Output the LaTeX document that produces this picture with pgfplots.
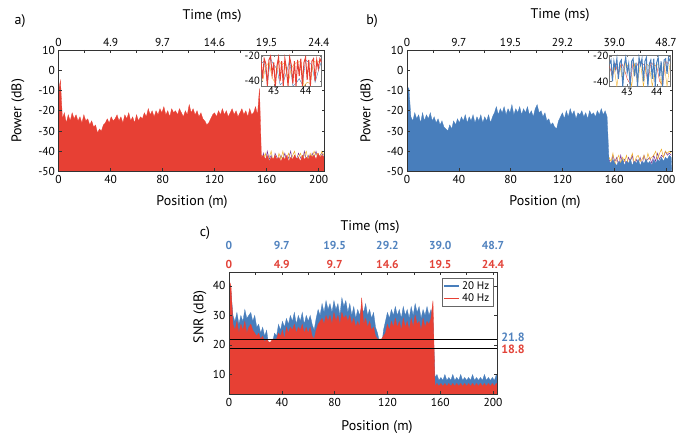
\documentclass[border=0pt]{standalone}
\usepackage{pgfplots}
\pgfplotsset{compat=1.18}
\usepackage{pgfplotstable}
\usepackage{fontspec}
\setmainfont{PT Sans}

\definecolor{myred}{RGB}{231,64,52}
\definecolor{myblue}{RGB}{72,126,188}
\definecolor{mypurple}{RGB}{120,50,150}
\definecolor{myorange}{RGB}{240,175,40}
\definecolor{lblblue}{RGB}{80,130,190}
\definecolor{lblred}{RGB}{226,66,56}

% position (m), power a (dB), power b (dB), SNR 20 Hz, SNR 40 Hz
\pgfplotstableread{
x pa pb sb sr
0 -60 -60 0 0
0 -10 -8 40 42
1.5 -5 -9 38 40
3 -24 -23 30 27
4.5 -21 -25 28 25
6 -26 -21 31 28
7.5 -22 -24 27 24
9 -25 -22 30 27
10.5 -21 -26 28 25
12 -24 -21 32 28
13.5 -22 -25 29 24
15 -25 -22 30 26
16.5 -23 -24 31 27
18 -26 -21 28 25
19.5 -22 -25 30 24
21 -25 -23 26 23
22.5 -24 -26 27 24
24 -27 -24 24 22
25.5 -25 -27 26 23
27 -28 -25 23 21
28.5 -27 -28 25 22
30 -31 -29 20 21
31.5 -29 -30 18 21
33 -30 -27 21 22
34.5 -27 -29 24 22
36 -26 -25 23 22
37.5 -24 -27 27 24
39 -26 -24 25 23
40.5 -23 -26 28 25
42 -25 -23 26 22
43.5 -24 -25 29 26
45 -22 -22 27 24
46.5 -25 -26 30 26
48 -23 -23 28 25
49.5 -26 -25 31 27
51 -22 -22 27 24
52.5 -24 -26 30 26
54 -21 -23 28 25
55.5 -25 -25 31 27
57 -23 -22 27 24
58.5 -26 -26 30 26
60 -22 -23 28 24
61.5 -25 -25 30 26
63 -23 -22 27 23
64.5 -24 -26 25 22
66 -21 -23 29 25
67.5 -23 -21 32 27
69 -19 -18 30 28
70.5 -22 -22 34 29
72 -20 -19 31 27
73.5 -23 -21 35 30
75 -20 -18 32 28
76.5 -22 -22 34 30
78 -19 -19 31 27
79.5 -21 -21 35 31
81 -18 -17 32 28
82.5 -22 -22 34 30
84 -20 -19 30 27
85.5 -23 -21 36 31
87 -19 -18 33 29
88.5 -21 -22 35 30
90 -20 -19 31 28
91.5 -22 -21 34 30
93 -19 -18 30 27
94.5 -21 -22 33 29
96 -23 -20 29 26
97.5 -20 -23 32 28
99 -22 -19 30 26
100.5 -17 -17 33 36
102 -21 -21 31 27
103.5 -19 -20 34 29
105 -22 -23 30 26
106.5 -20 -21 32 28
108 -23 -25 29 25
109.5 -21 -24 31 26
111 -24 -27 26 23
112.5 -25 -26 24 22
114 -27 -28 21 22
115.5 -26 -29 19 22
117 -24 -25 25 23
118.5 -22 -23 28 24
120 -21 -21 31 27
121.5 -23 -24 29 25
123 -20 -20 32 28
124.5 -22 -23 30 26
126 -19 -19 33 29
127.5 -22 -22 30 26
129 -20 -20 32 28
130.5 -23 -24 29 25
132 -21 -21 33 29
133.5 -19 -22 30 26
135 -22 -20 32 28
136.5 -20 -23 29 25
138 -23 -21 33 29
139.5 -21 -24 30 26
141 -19 -20 34 30
142.5 -22 -22 31 27
144 -20 -21 33 28
145.5 -23 -23 29 25
147 -19 -20 32 29
148.5 -22 -22 30 26
150 -21 -19 33 28
151.5 -18 -22 30 27
153 -22 -20 32 29
154.5 -9 -23 29 35
156 -43 -45 9 6
157.5 -42 -46 10 7
159 -44 -44 8 6
160.5 -42 -46 9 7
162 -45 -47 8 6
163.5 -43 -45 10 7
165 -44 -46 8 6
166.5 -42 -44 9 7
168 -44 -47 8 6
169.5 -43 -45 10 7
171 -45 -46 8 6
172.5 -43 -44 9 7
174 -44 -47 8 6
175.5 -42 -45 10 7
177 -45 -46 8 6
178.5 -43 -44 9 7
180 -44 -47 8 6
181.5 -42 -45 9 7
183 -44 -46 8 6
184.5 -43 -44 10 7
186 -45 -46 8 6
187.5 -42 -45 9 7
189 -44 -47 8 6
190.5 -43 -44 9 7
192 -44 -46 8 6
193.5 -42 -44 10 7
195 -43 -45 8 6
196.5 -42 -43 9 7
198 -44 -45 8 6
199.5 -41 -43 9 7
201 -43 -44 8 6
202.5 -42 -42 10 7
204 -43 -43 8 6
205 -60 -60 0 0
}\main

% other traces in the low region
\pgfplotstableread{
x apu aor bpu bor
156 -45 -42 -44 -43
157.5 -41 -44 -47 -45
159 -46 -41 -42 -41
160.5 -40 -46 -45 -47
162 -44 -43 -43 -44
163.5 -42 -40 -48 -42
165 -47 -45 -42 -46
166.5 -41 -42 -46 -43
168 -43 -46 -44 -45
169.5 -46 -41 -47 -42
171 -42 -44 -43 -47
172.5 -44 -40 -45 -44
174 -41 -45 -42 -41
175.5 -45 -43 -48 -46
177 -43 -41 -44 -43
178.5 -40 -46 -46 -42
180 -46 -42 -43 -45
181.5 -42 -40 -47 -44
183 -44 -45 -42 -42
184.5 -41 -43 -45 -46
186 -43 -41 -44 -41
187.5 -45 -44 -43 -44
189 -40 -42 -46 -43
190.5 -44 -40 -42 -42
192 -42 -45 -45 -40
193.5 -46 -41 -41 -44
195 -41 -43 -44 -41
196.5 -43 -40 -42 -39
198 -40 -42 -43 -43
199.5 -44 -41 -40 -40
201 -42 -43 -42 -41
202.5 -41 -40 -41 -40
204 -43 -42 -42 -41
}\low

\pgfplotsset{
  base/.style={scale only axis, anchor=south west, axis on top,
    tick align=inside, major tick length=3pt,
    axis line style={black!80, line width=0.5pt},
    every tick/.style={black!80, line width=0.5pt},
    tick label style={font=\fontsize{11.5}{12}\selectfont},
    /pgf/number format/assume math mode=true},
  topax/.style={scale only axis, anchor=south west, axis x line*=top, axis y line=none,
    tick align=inside, major tick length=3pt, ymin=0, ymax=1,
    axis line style={black!80, line width=0.5pt},
    every tick/.style={black!80, line width=0.5pt},
    tick label style={font=\fontsize{11.5}{12}\selectfont}},
  inset/.style={scale only axis, anchor=south west,
    axis background/.style={fill=white},
    tick align=inside, major tick length=2pt,
    axis line style={black!55, line width=0.5pt},
    every tick/.style={black!55, line width=0.4pt},
    tick label style={font=\fontsize{10.5}{11}\selectfont, inner sep=1pt},
    /pgf/number format/assume math mode=true},
}

\begin{document}
\begin{tikzpicture}
\path[use as bounding box] (0pt,0pt) rectangle (678pt,434pt);

% ---------- panel a ----------
\begin{axis}[base, at={(58.5pt,262.5pt)}, width=266pt, height=121.5pt,
  xmin=0, xmax=204.5, ymin=-50, ymax=10,
  xtick={0,40,...,200}, ytick={-50,-40,...,10}, xtick pos=left, ytick pos=both, yticklabel pos=left]
\addplot[draw=mypurple, line width=0.5pt] table[x=x,y=apu]{\low};
\addplot[draw=myorange, line width=0.5pt] table[x=x,y=aor]{\low};
\addplot[draw=myred, fill=myred, line width=0.3pt] table[x=x,y=pa]{\main};
\end{axis}
\begin{axis}[topax, at={(58.5pt,262.5pt)}, width=266pt, height=121.5pt,
  xmin=0, xmax=204.5, xtick={0,20,...,200},
  xticklabels={0,,4.9,,9.7,,14.6,,19.5,,24.4}]
\end{axis}
\begin{axis}[inset, at={(261pt,348pt)}, width=60.5pt, height=31pt,
  xmin=42.6, xmax=44.5, ymin=-44, ymax=-19, xtick={43,44}, ytick={-40,-20}]
\addplot[myblue, line width=0.4pt] coordinates {(42.6,-26) (42.7,-24) (42.8,-42) (42.9,-22) (43.0,-27) (43.1,-30) (43.2,-43) (43.3,-41) (43.4,-33) (43.5,-23) (43.6,-44) (43.7,-42) (43.8,-38) (43.9,-43) (44.0,-23) (44.1,-25) (44.2,-27) (44.3,-41) (44.4,-32) (44.5,-24)};
\addplot[myorange, line width=0.4pt] coordinates {(42.65,-40) (42.75,-28) (42.85,-25) (42.95,-37) (43.05,-42) (43.15,-23) (43.25,-27) (43.35,-25) (43.45,-42) (43.55,-30) (43.65,-26) (43.75,-25) (43.85,-24) (43.95,-44) (44.05,-41) (44.15,-42) (44.25,-24) (44.35,-25) (44.45,-24)};
\addplot[myred, line width=1pt] coordinates {(42.60,-24) (42.65,-38) (42.70,-22) (42.75,-26) (42.80,-44) (42.85,-23) (42.90,-20) (42.95,-35) (43.00,-25) (43.05,-44) (43.10,-28) (43.15,-21) (43.20,-40) (43.25,-24) (43.30,-44) (43.35,-22) (43.40,-30) (43.45,-44) (43.50,-21) (43.55,-27) (43.60,-42) (43.65,-24) (43.70,-44) (43.75,-23) (43.80,-36) (43.85,-22) (43.90,-44) (43.95,-25) (44.00,-21) (44.05,-39) (44.10,-23) (44.15,-44) (44.20,-24) (44.25,-22) (44.30,-40) (44.35,-23) (44.40,-30) (44.45,-22) (44.50,-25)};
\end{axis}

% ---------- panel b ----------
\begin{axis}[base, at={(407pt,262.5pt)}, width=265.5pt, height=121.5pt,
  xmin=0, xmax=205, ymin=-50, ymax=10,
  xtick={0,40,...,200}, ytick={-50,-40,...,10}, xtick pos=left, ytick pos=both, yticklabel pos=left]
\addplot[draw=mypurple, line width=0.5pt] table[x=x,y=bpu]{\low};
\addplot[draw=myorange, line width=0.5pt] table[x=x,y=bor]{\low};
\addplot[draw=myblue, fill=myblue, line width=0.3pt] table[x=x,y=pb]{\main};
\end{axis}
\begin{axis}[topax, at={(407pt,262.5pt)}, width=265.5pt, height=121.5pt,
  xmin=0, xmax=205, xtick={0,20,...,200},
  xticklabels={0,,9.7,,19.5,,29.2,,39.0,,48.7}]
\end{axis}
\begin{axis}[inset, at={(609.5pt,347.5pt)}, width=60.5pt, height=31.5pt,
  xmin=42.4, xmax=44.45, ymin=-44, ymax=-19, xtick={43,44}, ytick={-40,-20}]
\addplot[myred, line width=0.4pt] coordinates {(42.4,-28) (42.5,-36) (42.6,-26) (42.7,-35) (42.8,-25) (42.9,-30) (43.0,-38) (43.1,-42) (43.2,-25) (43.3,-29) (43.4,-24) (43.5,-26) (43.6,-27) (43.7,-41) (43.8,-25) (43.9,-27) (44.0,-28) (44.1,-40) (44.2,-43) (44.3,-24) (44.4,-26)};
\addplot[myorange, line width=0.4pt] coordinates {(42.45,-36) (42.55,-28) (42.65,-44) (42.75,-27) (42.85,-40) (42.95,-25) (43.05,-29) (43.15,-44) (43.25,-26) (43.35,-42) (43.45,-25) (43.55,-44) (43.65,-26) (43.75,-28) (43.85,-44) (43.95,-27) (44.05,-26) (44.15,-43) (44.25,-25) (44.35,-44) (44.45,-26)};
\addplot[myblue, line width=1pt] coordinates {(42.40,-26) (42.45,-23) (42.50,-40) (42.55,-24) (42.60,-30) (42.65,-22) (42.70,-38) (42.75,-25) (42.80,-23) (42.85,-44) (42.90,-27) (42.95,-21) (43.00,-33) (43.05,-26) (43.10,-44) (43.15,-24) (43.20,-22) (43.25,-36) (43.30,-25) (43.35,-44) (43.40,-21) (43.45,-27) (43.50,-22) (43.55,-40) (43.60,-24) (43.65,-21) (43.70,-44) (43.75,-26) (43.80,-23) (43.85,-38) (43.90,-22) (43.95,-44) (44.00,-25) (44.05,-21) (44.10,-36) (44.15,-24) (44.20,-44) (44.25,-23) (44.30,-22) (44.35,-34) (44.40,-21) (44.45,-24)};
\end{axis}

% ---------- panel c ----------
\begin{axis}[base, at={(229pt,39.7pt)}, width=268pt, height=122pt,
  xmin=0, xmax=203, ymin=3.3, ymax=44.6,
  xtick={0,40,...,200}, ytick={10,20,30,40}, xtick pos=left, ytick pos=both, yticklabel pos=left,
  legend style={at={(0.985,0.955)}, anchor=north east, draw=black!60, line width=0.4pt,
    font=\fontsize{11}{12}\selectfont, inner sep=1.5pt, row sep=-1pt},
  legend cell align=left,
  legend image code/.code={\draw[#1] (0pt,0pt) -- (15pt,0pt);}]
\addplot[draw=myblue, fill=myblue, line width=0.3pt, forget plot] table[x=x,y=sb]{\main};
\addplot[draw=myred, fill=myred, line width=0.3pt, forget plot] table[x=x,y=sr]{\main};
\addplot[black, line width=0.9pt, forget plot] coordinates {(0,21.8) (203,21.8)};
\addplot[black, line width=0.9pt, forget plot] coordinates {(0,18.8) (203,18.8)};
\addlegendimage{myblue, line width=1.5pt}
\addlegendentry{20 Hz}
\addlegendimage{myred, line width=1.5pt}
\addlegendentry{40 Hz}
\end{axis}
\begin{axis}[topax, at={(229pt,39.7pt)}, width=268pt, height=122pt,
  xmin=0, xmax=203, xtick={0,20,...,200},
  xticklabels={0,,4.9,,9.7,,14.6,,19.5,,24.4},
  xticklabel style={text=lblred, font=\fontsize{11.5}{12}\selectfont\bfseries}]
\end{axis}
\begin{axis}[topax, at={(229pt,39.7pt)}, width=268pt, height=122pt,
  xmin=0, xmax=203, xtick={0,40,...,200}, major tick length=0pt,
  xticklabels={0,9.7,19.5,29.2,39.0,48.7},
  xticklabel style={text=lblblue, font=\fontsize{11.5}{12}\selectfont\bfseries, yshift=19pt}]
\end{axis}

% ---------- texts ----------
\begin{scope}[every node/.style={font=\fontsize{14}{16}\selectfont}]
\node at (20pt,413pt) {a)};
\node at (212pt,418pt) {Time (ms)};
\node at (192pt,232pt) {Position (m)};
\node[rotate=90] at (18pt,323pt) {Power (dB)};
\node at (372pt,413pt) {b)};
\node at (560pt,419pt) {Time (ms)};
\node at (545pt,232pt) {Position (m)};
\node[rotate=90] at (367pt,323pt) {Power (dB)};
\node at (205pt,201pt) {c)};
\node at (370pt,207pt) {Time (ms)};
\node[rotate=90] at (200pt,117pt) {SNR (dB)};
\node at (377pt,7pt) {Position (m)};
\end{scope}
\node[font=\fontsize{12}{13}\selectfont\bfseries, text=lblblue, inner sep=0pt] at (513pt,97pt) {21.8};
\node[font=\fontsize{12}{13}\selectfont\bfseries, text=lblred, inner sep=0pt] at (513pt,85pt) {18.8};
\end{tikzpicture}
\end{document}
